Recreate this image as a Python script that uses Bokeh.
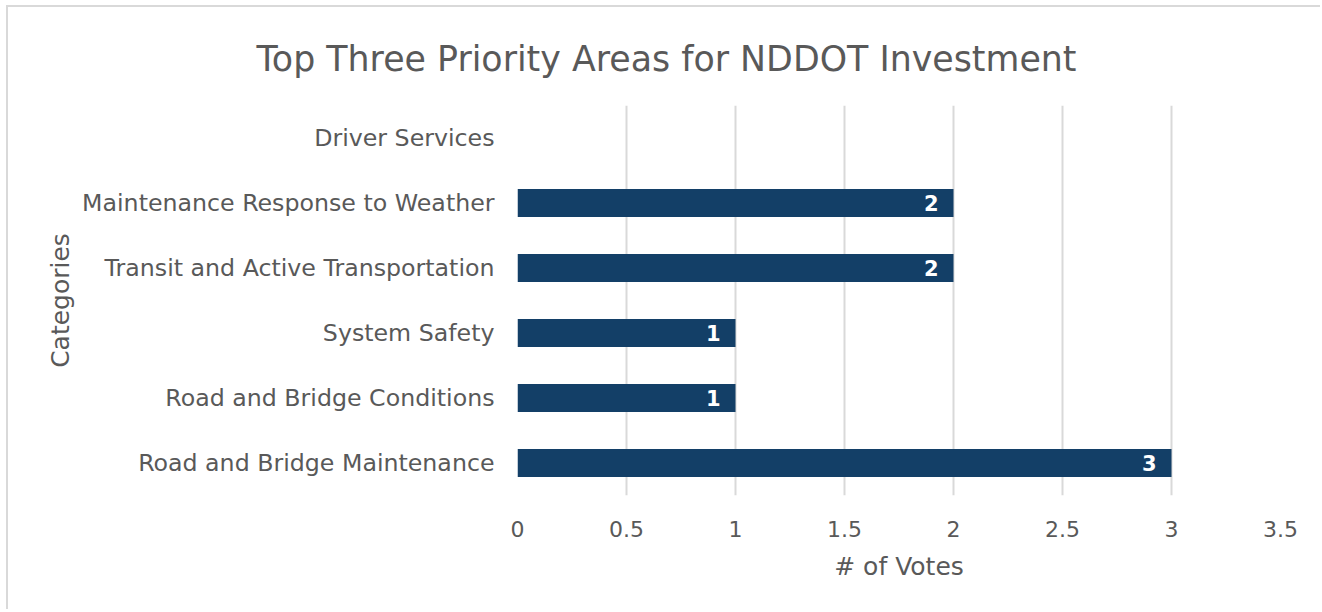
from bokeh.plotting import figure
from bokeh.models import ColumnDataSource, FactorRange, Range1d, FixedTicker, LabelSet, Title
from bokeh.core.properties import value
from bokeh.embed import file_html
from bokeh.resources import INLINE

categories = [
    "Road and Bridge Maintenance",
    "Road and Bridge Conditions",
    "System Safety",
    "Transit and Active Transportation",
    "Maintenance Response to Weather",
    "Driver Services",
]
votes = [3, 1, 1, 2, 2, 0]
tick_values = [0, 0.5, 1, 1.5, 2, 2.5, 3, 3.5]
tick_labels = ["0", "0.5", "1", "1.5", "2", "2.5", "3", "3.5"]
title_text = "Top Three Priority Areas for NDDOT Investment"

FONT = "DejaVu Sans"
GREY = "#595959"
BAR = "#133f67"

src = ColumnDataSource(dict(
    cat=categories,
    votes=votes,
    lab=[str(v) if v else "" for v in votes],
))

p = figure(
    width=1314, height=604,
    y_range=FactorRange(factors=categories),
    x_range=Range1d(0, 3.5),
    output_backend="svg", toolbar_location=None,
)
p.outline_line_color = None
p.border_fill_color = "white"
p.background_fill_color = "white"
p.min_border = 0
p.min_border_left = 509
p.min_border_right = 42
p.min_border_top = 98
p.min_border_bottom = 116

p.hbar(y="cat", right="votes", height=0.43, left=0, source=src,
       fill_color=BAR, line_color=None)

p.add_layout(LabelSet(x="votes", y="cat", text="lab", source=src,
                      text_align="right", text_baseline="middle",
                      x_offset=-15, y_offset=0,
                      text_color="white", text_font=value(FONT), text_font_size="21px",
                      text_font_style="bold"))

p.xaxis.ticker = FixedTicker(ticks=tick_values)
p.xaxis.major_label_overrides = {v: l for v, l in zip(tick_values, tick_labels)}
for ax in (p.xaxis, p.yaxis):
    ax.axis_line_color = None
    ax.major_tick_line_color = None
    ax.minor_tick_line_color = None
    ax.major_label_text_color = GREY
    ax.major_label_text_font = FONT
    ax.axis_label_text_color = GREY
    ax.axis_label_text_font = FONT
    ax.axis_label_text_font_size = "25px"
    ax.axis_label_text_font_style = "normal"

p.xaxis.major_label_text_font_size = "22px"
p.yaxis.major_label_text_font_size = "23.7px"
p.xaxis.axis_label = "# of Votes"
p.xaxis.major_label_standoff = 19
p.xaxis.axis_label_standoff = 12
p.yaxis.axis_label = "Categories"
p.yaxis.major_label_standoff = 17
p.yaxis.axis_label_standoff = 4

p.xgrid.grid_line_color = "#d9d9d9"
p.xgrid.grid_line_width = 2
p.ygrid.grid_line_color = None

p.title = Title(text=title_text, align="left", offset=-261, standoff=54,
                text_color=GREY, text_font=FONT, text_font_size="34.8px",
                text_font_style="normal")

p.styles = {"border": "2px solid #d9d9d9", "border-right": "none", "border-bottom": "none",
            "margin-left": "6px", "margin-top": "5px"}

open("out.html", "w").write(file_html(p, INLINE))
